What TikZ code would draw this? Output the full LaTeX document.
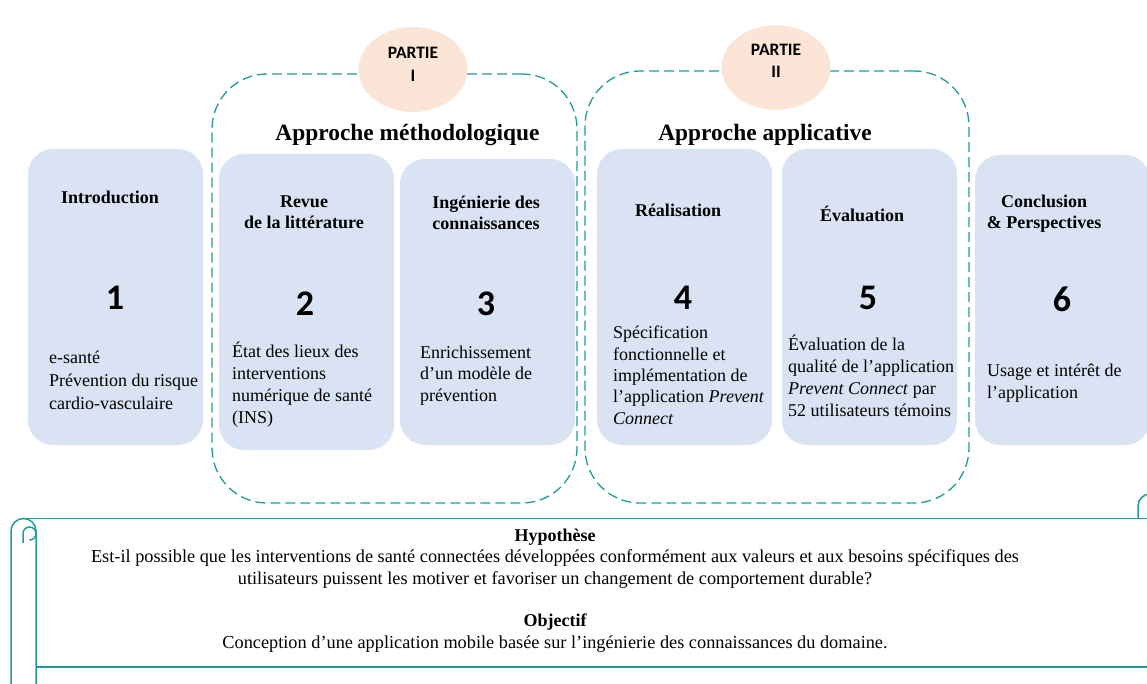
\documentclass[tikz,border=0pt]{standalone}
\usepackage{fontspec}
\setmainfont{Liberation Serif}
\newfontfamily\numfont{Carlito}
\usetikzlibrary{positioning,shapes.geometric}

\definecolor{cardblue}{HTML}{DAE3F3}
\definecolor{partpeach}{HTML}{FBE5D6}
\definecolor{scrollteal}{RGB}{32,156,152}

\begin{document}
\begin{tikzpicture}
  [x=1pt,y=1pt,
   card/.style={fill=cardblue,rounded corners=25pt,minimum width=175pt,inner sep=0pt},
   part/.style={ellipse,fill=partpeach,minimum width=109pt,minimum height=85pt,inner sep=0pt},
   group/.style={draw=scrollteal,line width=1.3pt,dash pattern=on 10pt off 5pt,rounded corners=55pt,inner sep=0pt},
   scroll/.style={draw=scrollteal,line width=1.5pt},
   parttext/.style={font=\fontsize{17.5}{23}\numfont\bfseries,align=center,anchor=base,inner sep=0pt},
   heading/.style={font=\fontsize{23.4}{28}\selectfont\bfseries,anchor=base,inner sep=0pt},
   title/.style={font=\fontsize{18}{21}\selectfont\bfseries,align=center,anchor=base,inner sep=0pt},
   body/.style={font=\fontsize{18}{21.5}\selectfont,align=left,anchor=base west,inner sep=0pt},
   num/.style={font=\fontsize{36}{40}\numfont\bfseries,anchor=base,inner sep=0pt}]
  \clip (0,0) rectangle (1147,-684);

  % parts
  \node[group,minimum width=365pt,minimum height=429pt] (g1) at (394.5,-288.5) {};
  \node[group,minimum width=384pt,minimum height=432pt] (g2) at (777,-287) {};
  \node[part] (p1) at (413,-69.5) {};
  \node[part] (p2) at (776,-67.5) {};
  \node[parttext] (p1t) at (413,-82) {PARTIE\\I};
  \node[parttext,font=\fontsize{17.5}{22}\numfont\bfseries] (p2t) at (776,-78) {PARTIE\\II};
  \node[heading] (h1) at (407.5,-141) {Approche méthodologique};
  \node[heading] (h2) at (765,-141) {Approche applicative};

  % chapters
  \foreach \name/\x/\y/\h in {b1/115.5/-297/296, b2/306.5/-302/296, b3/487.5/-302/286,
                              b4/684.5/-297/296, b5/869.5/-297/296, b6/1062.5/-300/290}
    \node[card,minimum height=\h pt] (\name) at (\x,\y) {};

  \node[title] (t1) at (110,-204) {Introduction};
  \node[title] (t2) at (304,-229) {Revue\\de la littérature};
  \node[title] (t3) at (486,-230) {Ingénierie des\\connaissances};
  \node[title] (t4) at (678,-217) {Réalisation};
  \node[title] (t5) at (862,-222) {Évaluation};
  \node[title] (t6) at (1044,-229) {Conclusion\\\& Perspectives};

  \foreach \n/\x/\y in {1/115/-309, 2/305/-315, 3/486/-315, 4/683/-309, 5/868/-309, 6/1062/-312}
    \node[num] (n\n) at (\x,\y) {\n};

  \node[body,font=\fontsize{18}{23}\selectfont] (d1) at (49,-409)
    {e-santé\\Prévention du risque\\cardio-vasculaire};
  \node[body,font=\fontsize{18}{22}\selectfont] (d2) at (232,-423)
    {État des lieux des\\interventions\\numérique de santé\\(INS)};
  \node[body] (d3) at (420,-401) {Enrichissement\\d’un modèle de\\prévention};
  \node[body,font=\fontsize{18}{21.3}\selectfont] (d4) at (613,-424)
    {Spécification\\fonctionnelle et\\implémentation de\\l’application \textit{Prevent}\\\textit{Connect}};
  \node[body,font=\fontsize{18}{22}\selectfont] (d5) at (788,-416)
    {Évaluation de la\\qualité de l’application\\\textit{Prevent Connect} par\\52 utilisateurs témoins};
  \node[body] (d6) at (987,-398) {Usage et intérêt de\\l’application};

  % scroll
  \draw[scroll] (11,-684) -- (11,-531) arc[start angle=180,end angle=0,radius=12.5] -- (36,-684);
  \draw[scroll] (23,-543) -- (23,-533.5) arc[start angle=180,end angle=-90,radius=6.5];
  \draw[scroll] (23.5,-518.5) -- (1147,-518.5);
  \draw[scroll] (1138,-518.5) -- (1138,-506) arc[start angle=180,end angle=90,radius=12];
  \draw[scroll] (36,-667) -- (1147,-667);

  \node[title] (hy) at (555,-541) {Hypothèse};
  \node[title,font=\fontsize{18.3}{22}\selectfont] (hyt) at (555,-584)
    {Est-il possible que les interventions de santé connectées développées conformément aux valeurs et aux besoins spécifiques des\\utilisateurs puissent les motiver et favoriser un changement de comportement durable?};
  \node[title] (ob) at (555,-626) {Objectif};
  \node[title,font=\fontsize{18.3}{22}\selectfont] (obt) at (555,-648)
    {Conception d’une application mobile basée sur l’ingénierie des connaissances du domaine.};
\end{tikzpicture}
\end{document}
